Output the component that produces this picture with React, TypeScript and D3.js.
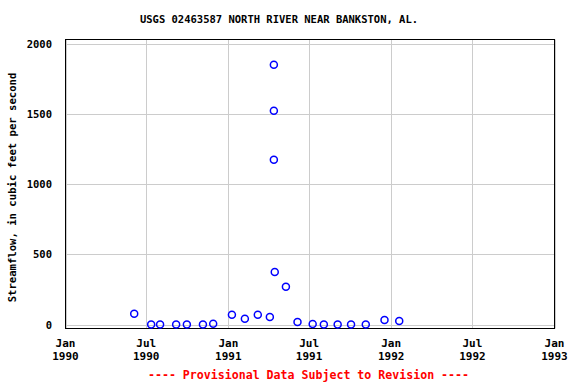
import React from "react";
import * as d3 from "d3";

const title = "USGS 02463587 NORTH RIVER NEAR BANKSTON, AL.";
const yAxisTitle = "Streamflow, in cubic feet per second";
const footer = "---- Provisional Data Subject to Revision ----";

const sampleDates = [
  "1990-06-04", "1990-07-12", "1990-08-01", "1990-09-06", "1990-09-30",
  "1990-11-05", "1990-11-28", "1991-01-09", "1991-02-07", "1991-03-08",
  "1991-04-04", "1991-04-13", "1991-04-13", "1991-04-13", "1991-04-15",
  "1991-05-10", "1991-06-05", "1991-07-09", "1991-08-03", "1991-09-03",
  "1991-10-03", "1991-11-05", "1991-12-17", "1992-01-19",
];
const sampleValues = [
  78, 1, 1, 1, 1,
  1, 7, 71, 43, 71,
  55, 1850, 1523, 1174, 375,
  270, 19, 5, 1, 1,
  1, 1, 33, 26,
];

const yTicks = [0, 500, 1000, 1500, 2000];
const xTickDates = ["1990-01-01", "1990-07-01", "1991-01-01", "1991-07-01", "1992-01-01", "1992-07-01", "1993-01-01"];
const xTickMonths = ["Jan", "Jul", "Jan", "Jul", "Jan", "Jul", "Jan"];
const xTickYears = ["1990", "1990", "1991", "1991", "1992", "1992", "1993"];

const W = 576, H = 384;
const M = { left: 65.5, right: 554.5, top: 39.5, bottom: 328.5 };
const font = "'DejaVu Sans Mono', monospace";

export default function App() {
  const x = d3.scaleUtc()
    .domain([new Date("1990-01-01T00:00:00Z"), new Date("1993-01-01T00:00:00Z")])
    .range([M.left, M.right]);
  const y = d3.scaleLinear().domain([-27, 2030]).range([M.bottom, M.top]);
  const pd = (s: string) => new Date(s + "T00:00:00Z");

  return (
    <svg width={W} height={H} style={{ position: "absolute", left: 0, top: 0, background: "#fff" }}>
      <rect x={0} y={0} width={W} height={H} fill="#fff" />
      <text x={279} y={23} textAnchor="middle" fontFamily={font} fontWeight="bold" fontSize={10.5} fill="#000">{title}</text>
      {yTicks.map((t) => (
        <line key={"gy" + t} x1={M.left} x2={M.right} y1={Math.round(y(t)) + 0.5} y2={Math.round(y(t)) + 0.5} stroke="#cccccc" strokeWidth={1} />
      ))}
      {xTickDates.map((d) => (
        <line key={"gx" + d} x1={Math.round(x(pd(d))) + 0.5} x2={Math.round(x(pd(d))) + 0.5} y1={M.top} y2={M.bottom} stroke="#cccccc" strokeWidth={1} />
      ))}
      <rect x={M.left} y={M.top} width={M.right - M.left} height={M.bottom - M.top} fill="none" stroke="#000" strokeWidth={1} />
      {yTicks.map((t) => (
        <text key={"ty" + t} x={52} y={y(t) + 3.8} textAnchor="end" fontFamily={font} fontWeight="bold" fontSize={10.5} fill="#000">{t}</text>
      ))}
      {xTickDates.map((d, i) => (
        <g key={"tx" + d}>
          <text x={x(pd(d))} y={347} textAnchor="middle" fontFamily={font} fontWeight="bold" fontSize={11} fill="#000">{xTickMonths[i]}</text>
          <text x={x(pd(d))} y={360} textAnchor="middle" fontFamily={font} fontWeight="bold" fontSize={11} fill="#000">{xTickYears[i]}</text>
        </g>
      ))}
      <text transform={`translate(15.5, 187.5) rotate(-90)`} textAnchor="middle" fontFamily={font} fontWeight="bold" fontSize={10.6} fill="#000">{yAxisTitle}</text>
      {sampleDates.map((d, i) => (
        <circle key={"p" + i} cx={x(pd(d))} cy={y(sampleValues[i])} r={3.5} fill="none" stroke="#0000ff" strokeWidth={1.5} />
      ))}
      <text x={308.5} y={379} textAnchor="middle" fontFamily={font} fontWeight="bold" fontSize={11.6} fill="#ff0000">{footer}</text>
    </svg>
  );
}
